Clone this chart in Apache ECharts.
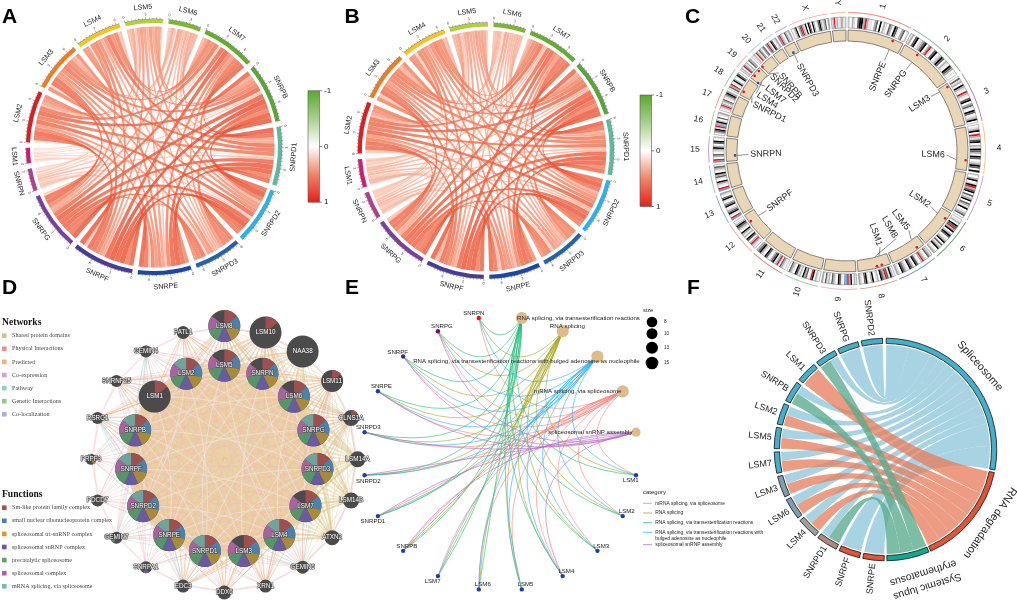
<!DOCTYPE html>
<html><head><meta charset="utf-8">
<style>html,body{margin:0;padding:0;background:#fff}#c{width:1017px;height:603px}</style>
<script src="https://cdn.jsdelivr.net/npm/echarts@6/dist/echarts.min.js"></script>
</head><body><div id="c"></div>
<script>
// ---------- DATA ----------
const panelLetters = ['A','B','C','D','E','F'];
const corrGenes = ['LSM1','LSM2','LSM3','LSM4','LSM5','LSM6','LSM7','SNRPB','SNRPD1','SNRPD2','SNRPD3','SNRPE','SNRPF','SNRPG','SNRPN'];
const corrRowsA = [
 [.14,.18,.11,.12,.09,.16,.21,.19,.22,.13,.15,.24,.20,.06],
 [.58,.52,.44,.31,.66,.72,.63,.70,.48,.61,.74,.68,.22],
 [.55,.36,.42,.57,.62,.66,.58,.54,.52,.69,.71,.19],
 [.33,.29,.61,.55,.68,.53,.41,.56,.60,.58,.16],
 [.24,.47,.49,.43,.51,.39,.46,.50,.44,.27],
 [.37,.40,.44,.35,.41,.32,.43,.47,.12],
 [.73,.69,.64,.50,.59,.75,.70,.25],
 [.78,.80,.62,.74,.82,.76,.30],
 [.71,.60,.77,.79,.72,.34],
 [.65,.69,.81,.74,.29],
 [.56,.63,.67,.21],
 [.75,.66,.28],
 [.79,.32],
 [.24]
];
const corrRowsB = [
 [.26,.33,.24,.30,.21,.35,.37,.32,.38,.27,.31,.39,.36,.19],
 [.61,.55,.47,.36,.68,.70,.65,.72,.52,.60,.71,.69,.31],
 [.59,.41,.39,.60,.64,.62,.61,.50,.55,.66,.70,.28],
 [.38,.34,.57,.58,.63,.56,.46,.53,.59,.60,.25],
 [.29,.44,.48,.46,.49,.42,.45,.47,.43,.30],
 [.33,.38,.40,.36,.37,.35,.41,.44,.22],
 [.72,.66,.67,.49,.58,.73,.68,.33],
 [.76,.79,.60,.71,.80,.75,.35],
 [.70,.58,.74,.77,.73,.37],
 [.63,.68,.78,.72,.34],
 [.54,.62,.64,.26],
 [.72,.67,.32],
 [.77,.36],
 [.29]
];
const colorbarTicks = ['-1','0','1'];
// Panel C
const chromNames = ['1','2','3','4','5','6','7','8','9','10','11','12','13','14','15','16','17','18','19','20','21','22','X','Y'];
const chromMb = [249,243,198,191,181,171,159,146,141,135,135,133,115,107,102,90,81,78,59,63,48,51,155,59];
const chromBands = [
 'awgawdkkgrgaawgdwkwgawdgwkdawgdwa','agwdkwagdkwgrawdkwagkdwgawkdgwaw','wdagwkgawrgawdkwgdawkdwagkw','wagkwrgadkwgakdgwkdwagkdwk',
 'awgkwakrgdkwdagkwdgakwagdw','wagwkdrgkwgkdwagkwdagkwag','agdwagrgwadkwgdkwagdkwag','wgkadrgdkwgawkgwakdwag',
 'agwkgrbbwadkwagdwgadwg','wagwkrawdgkwgadkwagdw','wagdwrgakdgwadkwagkdg','wagrgwdkwgagkwagdkgaw',
 'brwakdgawkdgwakdwag','brwagkwadgkwagdw','brwgdwagkgwdkwa','wgdkarbgkgwdwag',
 'wagrgagdwagdkg','wdgrwakgwakdw','agwrbagwdg','wagwrgadgwgd','brgwkdwag','brgawdgag',
 'wagkwgdrgakwkdwkgwadkgagdwg','agragaaggaa'
];
const chromArcColors = ['#f08a78','#7fb28a','#b57ba0','#f4c27a','#c59ad0','#6f9a6d','#7f8fd0','#cf9a78','#ecaad0','#86c896','#cf7f70','#f4a58f','#8fa0d8','#8ccdbe','#b89ad6','#9fd08a','#d09a90','#8fc0b0','#f4a898','#a8d4e8','#b8dcc0','#c0a0d0','#f4a8a0','#f4c28a'];
const cGenes = ['SNRPE','SNRPG','LSM3','LSM6','LSM2','LSM5','LSM8','LSM1','SNRPF','SNRPN','SNRPD1','LSM4','LSM7','SNRPD2','SNRPB','SNRPD3'];
const cGeneChrom = [0,1,2,3,5,6,7,7,11,14,17,18,18,18,19,21];
const cGeneMb = [203,70,14,147,32,32,60,38,96,25,19,18,2,46,2,25];
const cGeneTrack = [1,1,1,1,1,1,1,1,1,-1,1,1,-1,1,1,-1];
const cLabelAngle = [22.5,36,57,92.3,123.5,142,150.8,161,233.5,268,296.6,302.5,308.3,315,319,331];
const cLabelRadius = [96,99,98.6,98,99,99,99,100,98.7,97,105,106,103,107,102,99.5];
// Panel D
const outerNodes = ['LSM8','LSM10','NAA38','LSM11','CLNS1A','LSM14A','LSM14B','ATXN2','GEMIN6','XRN1','DDX6','EDC3','SNRPA1','GEMIN7','PDCD7','PRPF3','RSRC1','SNRNP25','GEMIN4','PATL1'];
const outerSizes = [16,16,16,11,8,8,8,7.5,6.5,6.5,7,6.5,6,6,6,5.5,6,6,6,6.5];
const outerFunctions = ['1111110','1000000','0000000','1000000','1000000','0000000','0000000','0000000','0100000','0000000','0000000','0000000','0101000','0000100','0000000','0010001','0000000','0000000','1000000','0000000'];
const innerNodes = ['LSM5','SNRPN','LSM6','SNRPG','SNRPD3','LSM7','LSM4','LSM3','SNRPD1','SNRPE','SNRPD2','SNRPF','SNRPB','LSM1','LSM2'];
const innerFunctions = ['1111110','1111110','1111110','1111111','1111111','1111110','1111111','1111110','1111111','1111111','1111111','1111111','1111111','1000000','1111111'];
const networkNames = ['Shared protein domains','Physical Interactions','Predicted','Co-expression','Pathway','Genetic Interactions','Co-localization'];
const functionNames = ['Sm-like protein family complex','small nuclear ribonucleoprotein complex','spliceosomal tri-snRNP complex','spliceosomal snRNP complex','precatalytic spliceosome','spliceosomal complex','mRNA splicing, via spliceosome'];
const sharedHubs = ['LSM8','LSM10','NAA38','LSM11','CLNS1A','LSM14A','LSM14B','ATXN2'];
const physicalHubs = ['PATL1','GEMIN4','SNRNP25','RSRC1','PRPF3','PDCD7','GEMIN7','SNRPA1','EDC3','DDX6','XRN1','GEMIN6','CLNS1A','LSM11','LSM8','LSM10'];
const predictedHubs = ['DDX6','XRN1','EDC3','PATL1','SNRNP25','RSRC1'];
const pathwayHubs = ['GEMIN7','EDC3','GEMIN6','RSRC1','GEMIN4'];
const lsmTargets = ['LSM1','LSM2','LSM3','LSM4','LSM5','LSM6','LSM7'];
const snrpTargets = ['SNRPB','SNRPD1','SNRPD2','SNRPD3','SNRPE','SNRPF','SNRPG'];
// Panel E
const cnetNodes = ['SNRPN','RNA splicing, via transesterification reactions','RNA splicing','RNA splicing, via transesterification reactions with bulged adenosine as nucleophile','mRNA splicing, via spliceosome','spliceosomal snRNP assembly','LSM1','LSM2','LSM3','LSM4','LSM5','LSM6','LSM7','SNRPB','SNRPD1','SNRPD2','SNRPD3','SNRPE','SNRPF','SNRPG'];
const cnetTerms = [4,2,1,3,5];
const cnetTermNames = ['mRNA splicing, via spliceosome','RNA splicing','RNA splicing, via transesterification reactions','RNA splicing, via transesterification reactions with','spliceosomal snRNP assembly'];
const cnetMembership = {SNRPN:[0,1,2,3],SNRPG:[0,1,2,3,4],SNRPF:[0,1,2,3,4],SNRPE:[0,1,2,3,4],SNRPD3:[0,1,2,3,4],SNRPD2:[0,1,2,3,4],SNRPD1:[0,1,2,3,4],SNRPB:[0,1,2,3,4],LSM7:[0,1,2,3],LSM6:[0,1,2,3],LSM5:[0,1,2,3],LSM4:[0,1,2,3,4],LSM3:[0,1,2,3],LSM2:[0,1,2,3],LSM1:[0,1,2,3]};
const sizeLegend = [8,10,13,15];
// Panel F
const fTerms = ['Spliceosome','RNA degradation','Systemic lupus erythematosus'];
const fGenes = ['SNRPE','SNRPF','SNRPD1','LSM4','LSM6','LSM3','LSM7','LSM5','LSM2','SNRPB','LSM1','SNRPD3','SNRPG','SNRPD2'];
const fSpliceosome = [1,1,.42,.46,.46,.46,.46,.46,.46,.42,0,.42,1,1];
const fDegradation = [0,0,0,.54,.54,.54,.54,.54,.54,0,1,0,0,0];
const fLupus = [0,0,.58,0,0,0,0,0,0,.58,0,.58,0,0];

// ---------- STYLE ----------
const SANS='"Liberation Sans",Arial,sans-serif', SERIF='"Liberation Serif",serif';
const corrColors=['#d8186f','#e41a1c','#f47a1f','#f7c31e','#b4cf3c','#7cb82f','#66ad2e','#58a53a','#5fb8a0','#2bb3e8','#2263b0','#1b47a8','#4a3a9c','#7a3fa0','#b0408f'];
const stains={w:'#ffffff',a:'#e2e2e2',g:'#b0b0b0',d:'#606060',k:'#000000',r:'#e5141c',b:'#6f9fc8'};
const netColors=['#d9c285','#e08f96','#eeb272','#cfa3d6','#8ccfd0','#8dc98b','#a8afd9'];
const denseColors={tan:'#e7d3a8',pink:'#f4b6b8',orange:'#f5bf90',pale:'#f3e4ee'};
const fnColors=['#b04a4a','#4a7fb5','#d49b33','#6e55a8','#5aa565','#b05ca8','#70c0a8'];
const pieColors=['#9e4f4f','#4f80a8','#a88a3c','#6a5aa0','#57946a','#a6649e','#6fa39c'];
const termColors=['#f8857a','#a8a81e','#22bd7d','#2cb0f2','#b96bc6'];

// ---------- HELPERS ----------
const rad=d=>d*Math.PI/180;
const P=(c,r,t)=>[c[0]+r*Math.sin(rad(t)),c[1]-r*Math.cos(rad(t))];
const f=n=>n.toFixed(2);
const arcTo=(c,r,t1,sweep)=>{const p=P(c,r,t1);return `A${f(r)} ${f(r)} 0 ${sweep[0]} ${sweep[1]} ${f(p[0])} ${f(p[1])}`};
function annular(c,r0,r1,a,b){
  const large=(b-a)>180?1:0,p=P(c,r1,a),q=P(c,r0,b);
  return `M${f(p[0])} ${f(p[1])}${arcTo(c,r1,b,[large,1])}L${f(q[0])} ${f(q[1])}${arcTo(c,r0,a,[large,0])}Z`;
}
function ribbon(c,r,a0,a1,b0,b1){
  const p=P(c,r,a0),q=P(c,r,b0);
  return `M${f(p[0])} ${f(p[1])}${arcTo(c,r,a1,[0,1])}Q${f(c[0])} ${f(c[1])} ${f(q[0])} ${f(q[1])}${arcTo(c,r,b1,[0,1])}Q${f(c[0])} ${f(c[1])} ${f(p[0])} ${f(p[1])}Z`;
}
function txt(s,x,y,o){o=o||{};return {type:'text',x,y,rotation:o.rot||0,style:{text:s,x:0,y:0,fill:o.fill||'#222',font:`${o.weight||'normal'} ${o.size||7}px ${o.family||SANS}`,align:o.align||'center',verticalAlign:o.va||'middle',stroke:o.stroke,lineWidth:o.lw||0}};}
const pathEl=(d,st)=>({type:'path',shape:{pathData:d},style:st});
const line=(a,b,col,w)=>({type:'line',shape:{x1:a[0],y1:a[1],x2:b[0],y2:b[1]},style:{stroke:col,lineWidth:w}});
function ser(data,draw,z){return {type:'custom',coordinateSystem:'none',silent:true,animation:false,progressive:0,z:z||2,data,renderItem:p=>draw(data[p.dataIndex],p.dataIndex)};}
function symmetric(rows){const n=rows.length+1,m=[...Array(n)].map(()=>Array(n).fill(0));rows.forEach((r,i)=>r.forEach((v,k)=>{m[i][i+1+k]=v;m[i+1+k][i]=v}));return m;}
function chordLayout(m,start,gap){
  const n=m.length,tot=m.map(r=>r.reduce((a,b)=>a+b,0)),sum=tot.reduce((a,b)=>a+b,0),u=(360-n*gap)/sum;
  const s0=[],s1=[],slot=m.map(()=>({}));let t=start;
  for(let i=0;i<n;i++){s0[i]=t;s1[i]=t+tot[i]*u;let x=t;for(let k=1;k<n;k++){const j=(i-k+n)%n;slot[i][j]=[x,x+m[i][j]*u];x+=m[i][j]*u}t=s1[i]+gap;}
  return {tot,s0,s1,slot,u};
}
function tangentRot(th){th=((th%360)+360)%360;return (th>90&&th<270)?-rad(th-180):-rad(th);}
// correlation colour scale: white -> salmon -> vermilion
const corrScale=[[0,[255,255,255]],[.3,[248,190,170]],[.6,[240,125,92]],[.85,[232,72,44]],[1,[226,38,26]]];
function corrColor(v){for(let i=1;i<corrScale.length;i++){if(v<=corrScale[i][0]){const a=corrScale[i-1],b=corrScale[i],t=(v-a[0])/(b[0]-a[0]);return a[1].map((x,k)=>Math.round(x+(b[1][k]-x)*t));}}return corrScale[4][1];}
const series=[];

// ---------- A / B ----------
function corrPanel(rows,c,start,barX,barY){
  const m=symmetric(rows),L=chordLayout(m,start,2.5),R=120.5,links=[];
  m.forEach((r,i)=>r.forEach((v,j)=>{if(j>i&&v>0)links.push([i,j,v])}));
  links.sort((a,b)=>a[2]-b[2]);
  series.push(ser(links,l=>{
    const [i,j,v]=l,A=L.slot[i][j],B=L.slot[j][i],C=corrColor(v);
    return pathEl(ribbon(c,R,A[0],A[1],B[0],B[1]),{fill:`rgba(${C[0]},${C[1]},${C[2]},0.82)`});
  }));
  const sect=corrGenes.map((n,i)=>[n,L.tot[i]]);
  series.push(ser(sect,(s,i)=>{
    const ch=[pathEl(annular(c,124,128,L.s0[i],L.s1[i]),{fill:corrColors[i]})];
    const steps=Math.floor(s[1]/.5+1e-6);
    ch.push(pathEl(annular(c,128,128.25,L.s0[i],L.s1[i]),{fill:'#333'}));
    for(let k=0;k<=steps;k++){
      const t=L.s0[i]+k*.5*L.u,maj=k%6===0;
      ch.push(line(P(c,128,t),P(c,maj?130.2:129.3,t),'#333',.4));
      if(maj)ch.push(txt(String(k/2),P(c,132.8,t)[0],P(c,132.8,t)[1],{size:3.8,rot:tangentRot(t),fill:'#444'}));
    }
    const mid=(L.s0[i]+L.s1[i])/2,p=P(c,140,mid);
    ch.push(txt(s[0],p[0],p[1],{size:7.2,rot:tangentRot(mid)}));
    return {type:'group',children:ch};
  },3));
  const ramp=[[0,'#5aa72e'],[.25,'#a9d08e'],[.5,'#ffffff'],[.75,'#ef8468'],[1,'#e3201a']];
  series.push(ser(colorbarTicks.map(t=>[t]),(t,i)=>{
    const ch=[];
    if(i===0)ch.push({type:'rect',shape:{x:barX,y:barY,width:11.5,height:111.5},style:{fill:new echarts.graphic.LinearGradient(0,0,0,1,ramp.map(r=>({offset:r[0],color:r[1]}))),stroke:'#555',lineWidth:.6}});
    const y=barY+i*55.75;
    ch.push(line([barX+11.5,y],[barX+14,y],'#333',.6));
    ch.push(txt(t[0],barX+16,y,{size:8,align:'left'}));
    return {type:'group',children:ch};
  },3));
}
corrPanel(corrRowsA,[154,147],262.6,308,90.7);
corrPanel(corrRowsB,[485.8,150.8],253.3,640,95);

// ---------- C ----------
(function(){
  const c=[847,151],gap=1,totalMb=chromMb.reduce((a,b)=>a+b,0),u=(360-24*gap)/totalMb,st=[];
  let t=.5;chromMb.forEach((l,i)=>{st[i]=t;t+=l*u+gap});
  const bandRows=[];
  chromBands.forEach((s,i)=>{const w=chromMb[i]*u/s.length;[...s].forEach((b,k)=>bandRows.push([i,b,st[i]+k*w,st[i]+(k+1)*w]))});
  series.push(ser(bandRows,b=>pathEl(annular(c,123,134,b[2],b[3]),{fill:stains[b[1]]})));
  series.push(ser(chromNames.map((n,i)=>[n,chromMb[i]]),(row,i)=>{
    const a=st[i],b=a+row[1]*u,mid=(a+b)/2,p=P(c,148+4*Math.abs(Math.sin(rad(mid))),mid);
    let th=mid,rot=(th<180)?-rad(th-90):-rad(th+90);
    return {type:'group',children:[
      pathEl(annular(c,123,134,a,b),{fill:'none',stroke:'#777',lineWidth:.5}),
      pathEl(annular(c,110,121,a,b),{fill:'#e9d6b6',stroke:'#555',lineWidth:.7}),
      pathEl(annular(c,138,138.9,a,b),{fill:chromArcColors[i]}),
      txt(row[0],p[0],p[1],{size:8.5,rot})
    ]};
  },3));
  series.push(ser(cGenes.map((g,i)=>[g,cGeneChrom[i],cGeneMb[i],cGeneTrack[i]]),(g,i)=>{
    const th=st[g[1]]+g[2]*u,r=g[3]>0?119:112,p=P(c,r,th),lt=cLabelAngle[i],lr=cLabelRadius[i],a=P(c,109.5,th),b=P(c,lr+1.5,lt),q=P(c,lr,lt);
    const right=lt<180,rot=right?-rad(lt-90):-rad(lt+90);
    return {type:'group',children:[
      line(a,b,'#444',.6),
      {type:'circle',shape:{cx:p[0],cy:p[1],r:1.3},style:{fill:g[3]>0?'#e5141c':'#1f4aa8'}},
      txt(g[0],q[0],q[1],{size:9,rot,align:right?'right':'left'})
    ]};
  },4));
})();

// ---------- D ----------
(function(){
  const c=[224.3,459.3],pos={};
  outerNodes.forEach((n,i)=>pos[n]=P(c,133.3,i*18));
  innerNodes.forEach((n,i)=>pos[n]=P(c,93.7,i*24));
  const edges=[];
  const add=(a,b,col,w,al,cv)=>edges.push([a,b,col,w,al,cv]);
  sharedHubs.forEach((h,k)=>innerNodes.forEach(b=>add(h,b,netColors[0],k>4?1.8:1.4,.4,.06)));
  outerNodes.slice(0,9).forEach((a,i)=>outerNodes.slice(0,9).forEach((b,j)=>{if(j>i)add(a,b,netColors[0],1,.35,.1)}));
  physicalHubs.forEach(h=>innerNodes.forEach(b=>add(h,b,netColors[1],.7,.32,-.05)));
  predictedHubs.forEach(h=>lsmTargets.forEach(b=>add(h,b,netColors[2],1,.55,.04)));
  pathwayHubs.forEach(h=>snrpTargets.forEach(b=>add(h,b,netColors[4],.6,.45,.05)));
  outerNodes.forEach((a,i)=>{add(a,outerNodes[(i+1)%20],netColors[1],.6,.35,.08);add(a,outerNodes[(i+2)%20],netColors[1],.6,.3,-.08)});
  [.16,-.16,.06,-.06].forEach(cv=>innerNodes.forEach((a,i)=>innerNodes.forEach((b,j)=>{if(j>i)add(a,b,denseColors.tan,5.2,.8,cv)})));
  innerNodes.forEach((a,i)=>innerNodes.forEach((b,j)=>{if(j>i){add(a,b,denseColors.pink,.7,.55,.03);add(a,b,denseColors.orange,.7,.55,-.1)}}));
  innerNodes.forEach((a,i)=>innerNodes.forEach((b,j)=>{if(j>i&&(j-i)%2===0)add(a,b,denseColors.pale,.9,.7,.11)}));
  series.push(ser(edges,e=>{
    const a=pos[e[0]],b=pos[e[1]],mx=(a[0]+b[0])/2,my=(a[1]+b[1])/2,dx=b[0]-a[0],dy=b[1]-a[1];
    const cx=mx-dy*e[5],cy=my+dx*e[5];
    return pathEl(`M${f(a[0])} ${f(a[1])}Q${f(cx)} ${f(cy)} ${f(b[0])} ${f(b[1])}`,{fill:'none',stroke:e[2],lineWidth:e[3],opacity:e[4]});
  },2));
  const nodeRows=outerNodes.map((n,i)=>[n,outerSizes[i],outerFunctions[i]]).concat(innerNodes.map((n,i)=>[n,16,innerFunctions[i]]));
  series.push(ser(nodeRows,n=>{
    const p=pos[n[0]],r=n[1],ch=[{type:'circle',shape:{cx:p[0],cy:p[1],r},style:{fill:'#4b4b4b'}}];
    [...n[2]].forEach((b,k)=>{if(b==='1')ch.push({type:'sector',shape:{cx:p[0],cy:p[1],r,r0:0,startAngle:rad(-90+k*360/7),endAngle:rad(-90+(k+1)*360/7)},style:{fill:pieColors[k]}})});
    ch.push(txt(n[0],p[0],p[1],{size:6.3,fill:'#fff',stroke:'#444',lw:1.2,weight:'normal'}));
    return {type:'group',children:ch};
  },4));
  const leg=(title,y0,names,cols,ys)=>{
    series.push(ser([[title]],t=>txt(t[0],2,y0,{size:9.6,weight:'bold',family:SERIF,align:'left',fill:'#111'}),5));
    series.push(ser(names.map(n=>[n]),(n,i)=>({type:'group',children:[
      {type:'rect',shape:{x:2,y:ys+i*13.1-2.3,width:4.6,height:4.6},style:{fill:cols[i]}},
      txt(n[0],12,ys+i*13.1,{size:6.1,family:SERIF,align:'left',fill:'#444'})
    ]}),5));
  };
  leg('Networks',322.7,networkNames,netColors,335.7);
  leg('Functions',494.5,functionNames,fnColors,507.7);
})();

// ---------- E ----------
(function(){
  const c=[500.3,453.7],R=137.4,pos=cnetNodes.map((n,i)=>P(c,R,-9+i*18));
  const links=[];
  cnetTerms.forEach((nodeIdx,t)=>{Object.keys(cnetMembership).forEach(g=>{if(cnetMembership[g].includes(t))links.push([g,nodeIdx,t])})});
  series.push(ser(links,l=>{
    const a=pos[cnetNodes.indexOf(l[0])],b=pos[l[1]],mx=(a[0]+b[0])/2,my=(a[1]+b[1])/2;
    const d=Math.hypot(b[0]-a[0],b[1]-a[1]),md=Math.hypot(mx-c[0],my-c[1]),off=.8*d*md/R;
    const ux=md?(c[0]-mx)/md:0,uy=md?(c[1]-my)/md:0;
    return pathEl(`M${f(a[0])} ${f(a[1])}Q${f(mx+ux*off)} ${f(my+uy*off)} ${f(b[0])} ${f(b[1])}`,{fill:'none',stroke:termColors[l[2]],lineWidth:.8,opacity:.78});
  },2));
  const labelOff={SNRPN:[-5,-5],SNRPG:[4,-4.5],SNRPF:[-5.5,-4.5],SNRPE:[3.5,-5],SNRPD3:[3.7,-4.7],SNRPD2:[3.7,5.7],SNRPD1:[-5,5],SNRPB:[3.7,-4.7],LSM7:[-5.3,5.3],LSM6:[4,-4.7],LSM5:[3.7,-4.7],LSM4:[3.7,-4.7],LSM3:[3.7,-4.7],LSM2:[4,-4.7],LSM1:[-5.3,5]};
  const termLabel={1:[56.7,0],2:[4.7,-5],3:[-71,5],4:[-45,0],5:[-45.6,0]};
  const termR={1:6,2:6.1,3:6.1,4:6.1,5:4.6};
  series.push(ser(cnetNodes.map(n=>[n]),(n,i)=>{
    const p=pos[i];
    if(termR[i]){
      const o=termLabel[i];
      return {type:'group',children:[
        {type:'circle',shape:{cx:p[0],cy:p[1],r:termR[i]},style:{fill:'#dfbb8a'}},
        txt(n[0],p[0]+o[0],p[1]+o[1],{size:6.15,fill:'#222'})
      ]};
    }
    const col=n[0]==='SNRPN'?'#f01010':n[0]==='SNRPG'?'#6a0d83':n[0]==='SNRPF'?'#3a2a90':'#1f3fa8',o=labelOff[n[0]];
    return {type:'group',children:[
      {type:'circle',shape:{cx:p[0],cy:p[1],r:2.2},style:{fill:col}},
      txt(n[0],p[0]+o[0],p[1]+o[1],{size:6.1,fill:'#222'})
    ]};
  },4));
  series.push(ser([['size']],t=>txt(t[0],643,310.7,{size:5.8,align:'left'}),5));
  const lr=[5.3,5.5,6,6.3],ly=[322,333.7,347.7,363];
  series.push(ser(sizeLegend.map(v=>[v]),(v,i)=>({type:'group',children:[
    {type:'circle',shape:{cx:652,cy:ly[i],r:lr[i]},style:{fill:'#000'}},
    txt(String(v[0]),664,ly[i],{size:4.6,align:'left'})
  ]}),5));
  series.push(ser([['category']],t=>txt(t[0],643,492.7,{size:6,align:'left'}),5));
  const yy=[503.3,513,522.7,532.3,544.7];
  series.push(ser(cnetTermNames.map(n=>[n]),(n,i)=>{
    const ch=[line([643,yy[i]],[652,yy[i]],termColors[i],.8),txt(n[0],655.3,yy[i],{size:4.9,align:'left'})];
    if(i===3)ch.push(txt('bulged adenosine as nucleophile',655.3,538.3,{size:4.9,align:'left'}));
    return {type:'group',children:ch};
  },5));
})();

// ---------- F ----------
(function(){
  const c=[885.5,449.5],names=fTerms.concat(fGenes),n=names.length,m=[...Array(n)].map(()=>Array(n).fill(0));
  fGenes.forEach((g,i)=>{[fSpliceosome,fDegradation,fLupus].forEach((col,t)=>{m[t][i+3]=col[i];m[i+3][t]=col[i]})});
  const tBounds=[[.4,100.6],[102,156],[157,179.3]],gStart=180.7,gStep=12.82,gWidth=11.1;
  const s0=[],s1=[],slot=m.map(()=>({}));
  for(let i=0;i<n;i++){
    const a=i<3?tBounds[i][0]:gStart+(i-3)*gStep,b=i<3?tBounds[i][1]:a+gWidth,tot=m[i].reduce((x,y)=>x+y,0),u=(b-a)/tot;
    s0[i]=a;s1[i]=b;let x=a;
    for(let k=1;k<n;k++){const j=(i-k+n)%n;slot[i][j]=[x,x+m[i][j]*u];x+=m[i][j]*u}
  }
  const R=104.5,links=[];[0,1,2].forEach(t=>fGenes.forEach((g,i)=>{if(m[t][i+3]>0)links.push([t,i+3,m[t][i+3]])}));
  const rib=['rgba(139,196,218,0.75)','rgba(229,128,95,0.78)','rgba(90,170,140,0.78)'];
  series.push(ser(links,l=>{const A=slot[l[0]][l[1]],B=slot[l[1]][l[0]];return pathEl(ribbon(c,R,A[0],A[1],B[0],B[1]),{fill:rib[l[0]]})}));
  const ring=['#45b0cc','#e0543a','#12a88e','#e0543a','#e0543a','#a88a80','#a0a0a0','#7e9fad','#7e9fad','#45aecb','#45aecb','#45aecb','#45aecb','#45aecb','#45aecb','#45aecb','#45aecb'];
  series.push(ser(names.map(s=>[s]),(s,i)=>{
    const mid=(s0[i]+s1[i])/2,ch=[pathEl(annular(c,106,111.3,s0[i],s1[i]),{fill:ring[i],stroke:'#111',lineWidth:.8})];
    if(i>=3){
      const p=P(c,114.5,mid);
      ch.push(txt(s[0],p[0],p[1],{size:9,rot:-rad(mid+90),align:'right'}));
    }else if(i===2){
      const a=P(c,143,163),b=P(c,129,163);
      ch.push(txt('Systemic lupus',a[0],a[1],{size:10.5,rot:-rad(163)}));
      ch.push(txt('erythematosus',b[0],b[1],{size:10.5,rot:-rad(163)}));
    }else{
      const th=i===0?48.5:125,p=P(c,i===0?126:127.7,th);
      ch.push(txt(s[0],p[0],p[1],{size:11,rot:-rad(th)}));
    }
    return {type:'group',children:ch};
  },3));
})();

// ---------- letters ----------
const letterAt=[[2,17.5],[344.5,17.5],[685,17.5],[2,288],[345,288],[687,288]];
series.push(ser(panelLetters.map(l=>[l]),(l,i)=>txt(l[0],letterAt[i][0],letterAt[i][1],{size:21,weight:'bold',align:'left',fill:'#000'}),6));

const chart=echarts.init(document.getElementById('c'),null,{width:1017,height:603});
chart.setOption({animation:false,backgroundColor:'#fff',series});
</script></body></html>
